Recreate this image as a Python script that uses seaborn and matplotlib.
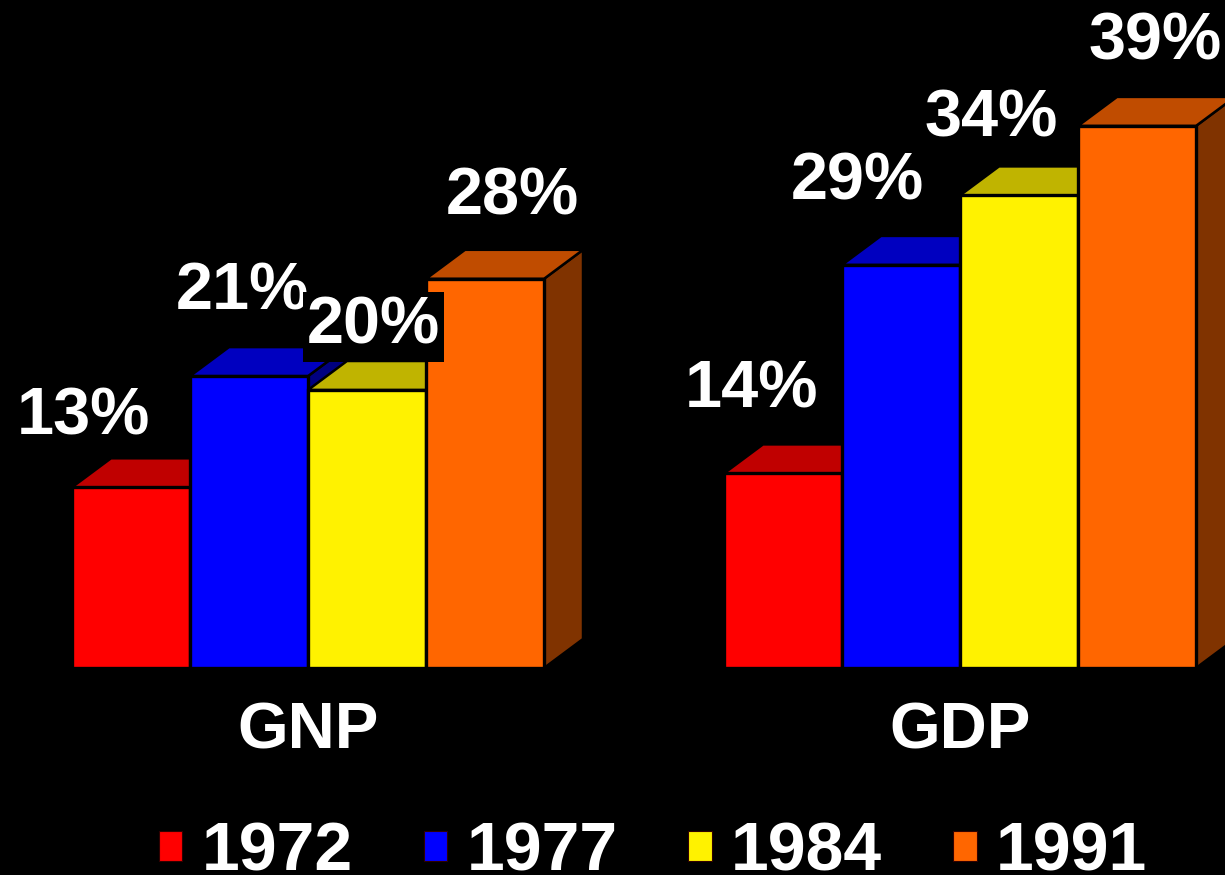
"""3D-style grouped bar chart: GNP and GDP shares by year."""

import matplotlib
import matplotlib.pyplot as plt
import pandas as pd
import seaborn as sns
from matplotlib.patches import Patch, Polygon

matplotlib.use("Agg")

indicators = ["GNP", "GDP"]
years = ["1972", "1977", "1984", "1991"]
gnp_share = [13, 21, 20, 28]
gdp_share = [14, 29, 34, 39]

front_colors = ["#FF0000", "#0000FF", "#FFF200", "#FF6600"]
top_colors = ["#C00000", "#0000C0", "#C0B400", "#C04C00"]
side_colors = ["#800000", "#000080", "#807800", "#803300"]

# label nudges in pixels (x offset from back-top middle, gap above back top)
label_dx = [[-67, -26, -13, 8], [-51, -63, -47, -1]]
label_gap = [[24, 38, 17, 35], [37, 36, 30, 37]]

DEPTH_X, DEPTH_Y = 39, 29  # pixels

rows = []
for ind, vals in zip(indicators, [gnp_share, gdp_share]):
    for yr, v in zip(years, vals):
        rows.append({"indicator": ind, "year": yr, "share": v})
df = pd.DataFrame(rows)

sns.set_style("dark")
plt.rcParams["font.family"] = ["Liberation Sans", "DejaVu Sans"]

W, H = 1225, 875
fig = plt.figure(figsize=(W / 100, H / 100), dpi=100, facecolor="black")
base_px = 207
ax = fig.add_axes([0, base_px / H, 1, 1 - base_px / H])
ax.set_facecolor("black")

sns.barplot(
    data=df, x="indicator", y="share", hue="year", order=indicators,
    hue_order=years, palette=front_colors, saturation=1, width=0.724,
    edgecolor="black", linewidth=2.4, legend=False, ax=ax,
)

px_per_y = 13.9
ax.set_xlim(-308 / 652, (W - 308) / 652)
ax.set_ylim(0, (H - base_px) / px_per_y)

# depth in data units
p0 = ax.transData.transform((0, 0))
p1 = ax.transData.transform((1, 1))
ddx = DEPTH_X / (p1[0] - p0[0])
ddy = DEPTH_Y / (p1[1] - p0[1])
to_data_x = 1 / (p1[0] - p0[0])
to_data_y = 1 / (p1[1] - p0[1])

for j, cont in enumerate(ax.containers):
    for g, bar in enumerate(cont.patches):
        x0 = bar.get_x()
        x1 = x0 + bar.get_width()
        h = bar.get_height()
        z = 2 + 2 * j
        side = Polygon([(x1, 0), (x1 + ddx, ddy), (x1 + ddx, h + ddy), (x1, h)],
                       closed=True, facecolor=side_colors[j], edgecolor="black",
                       linewidth=1.8, zorder=z)
        top = Polygon([(x0, h), (x0 + ddx, h + ddy), (x1 + ddx, h + ddy), (x1, h)],
                      closed=True, facecolor=top_colors[j], edgecolor="black",
                      linewidth=1.8, zorder=z)
        ax.add_patch(side)
        ax.add_patch(top)
        bar.set_zorder(z + 1)

        cx = (x0 + x1) / 2 + ddx / 2 + label_dx[g][j] * to_data_x
        cy = h + ddy + label_gap[g][j] * to_data_y
        bbox = None
        if g == 0 and j == 2:
            bbox = dict(facecolor="black", edgecolor="none", pad=3)
        ax.text(cx, cy, f"{h:.0f}%", ha="center", va="baseline", color="white",
                fontsize=48, fontweight="bold", zorder=20, bbox=bbox)

ax.set_xlabel("")
ax.set_ylabel("")
ax.set_yticks([])
ax.set_xticks(range(len(indicators)))
ax.set_xticklabels(indicators)
ax.tick_params(axis="x", length=0, pad=24, labelsize=47, labelcolor="white")
for lbl in ax.get_xticklabels():
    lbl.set_fontweight("bold")
ax.grid(False)
sns.despine(ax=ax, left=True, bottom=True)

handles = [Patch(facecolor=c, edgecolor="#300000", linewidth=0.8) for c in front_colors]
fig.legend(
    handles, years, loc="lower center", bbox_to_anchor=(0.533, -0.05),
    ncol=4, frameon=False, handlelength=0.35, handleheight=0.3,
    handletextpad=0.28, columnspacing=1.04, borderpad=0,
    prop={"size": 49, "weight": "bold"}, labelcolor="white",
)

fig.savefig("out.png", dpi=100, facecolor="black")
